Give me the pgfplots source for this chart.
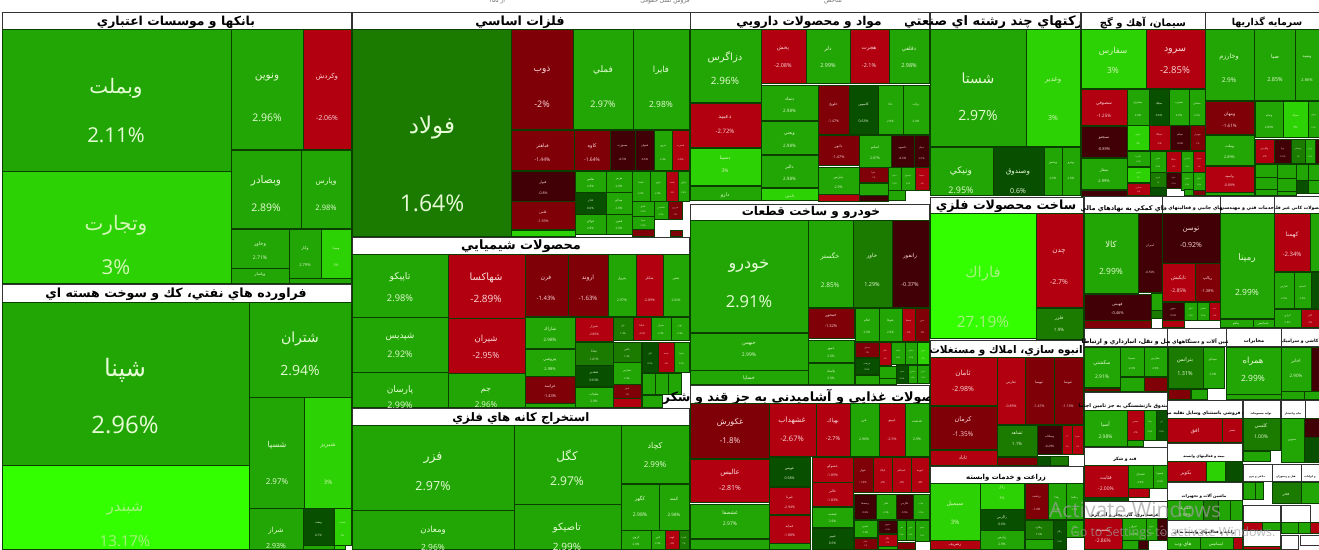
\documentclass[border=0pt]{standalone}
\usepackage{fontspec}
\usepackage{pgfplots}
\pgfplotsset{compat=1.18}
\setmainfont{Open Sans}
\newfontfamily\arabicfont[Script=Arabic]{DejaVu Sans}
\TeXXeTstate=1
\newcommand{\fa}[1]{{\arabicfont\beginR #1\endR}}

\definecolor{cG}{HTML}{22A605}
\definecolor{cB}{HTML}{2DD205}
\definecolor{cN}{HTML}{33FF00}
\definecolor{cF}{HTML}{1B7A00}
\definecolor{cK}{HTML}{085000}
\definecolor{cR}{HTML}{B20010}
\definecolor{cM}{HTML}{800008}
\definecolor{cD}{HTML}{400005}
\definecolor{tG}{HTML}{E6FCD6}
\definecolor{tB}{HTML}{D5F7B8}
\definecolor{tN}{HTML}{A6F27E}
\definecolor{tF}{HTML}{E6FCD6}
\definecolor{tK}{HTML}{EAFBE0}
\definecolor{tR}{HTML}{FBDADA}
\definecolor{tM}{HTML}{FBDADA}
\definecolor{tD}{HTML}{FBDADA}
\definecolor{edge}{HTML}{0B3F00}

% bare rectangle
\newcommand{\rc}[5]{\addplot[fill=c#5,draw=edge,line width=.5pt] coordinates {(#1,#2)(#3,#2)(#3,#4)(#1,#4)} --cycle;}
% one label: x, y, colour, size, text
\newcommand{\lb}[5]{\node[text=t#3,inner sep=0pt,font=\fontsize{#4}{#4}\selectfont] at (axis cs:#1,#2) {#5};}
\newcommand{\lbx}[5]{\pgfmathsetmacro\lx{#1}\pgfmathsetmacro\ly{#2}\edef\next{\noexpand\lb{\lx}{\ly}}\next{#3}{#4}{#5}}
% cell with name and percent at the usual heights
\newcommand{\tm}[8]{\rc{#1}{#2}{#3}{#4}{#5}
  \lbx{(#1+#3)/2}{#2+.40*(#4-#2)}{#5}{#6}{\fa{#7}}
  \lbx{(#1+#3)/2}{#2+.74*(#4-#2)}{#5}{#6}{#8}}
% header box and its text, clipped to clipL..clipR
\newcommand{\hd}[4]{\addplot[fill=white,draw=black!80,line width=.6pt] coordinates {(#1,#2)(#3,#2)(#3,#4)(#1,#4)} --cycle;}
\newcommand{\hx}[6]{\begin{scope}\clip (axis cs:#4,0) rectangle (axis cs:#5,549);
  \node[text=black,inner sep=0pt,yshift=-1.5pt,font=\fontsize{#3}{#3}\selectfont\bfseries] at (axis cs:#1,#2) {\arabicfont #6};\end{scope}}

\begin{document}
\begin{tikzpicture}
\begin{axis}[
    scale only axis, width=1319pt, height=549pt,
    xmin=0, xmax=1319, ymin=0, ymax=549, y dir=reverse,
    hide axis, clip=true]

% page background
\addplot[fill=white,draw=none] coordinates {(0,0)(1319,0)(1319,549)(0,549)} --cycle;
\node[text=black!55,font=\fontsize{6}{6}\selectfont] at (axis cs:497,1) {\arabicfont\beginR از ۱۵۵\endR};
\node[text=black!55,font=\fontsize{6}{6}\selectfont] at (axis cs:665,1) {\arabicfont\beginR فروش نسل حقوقی\endR};
\node[text=black!55,font=\fontsize{6}{6}\selectfont] at (axis cs:833,1) {\fa{شاخص}};

% banks
\hd{2}{12}{351}{29}
\hx{176}{20.5}{12.4}{0}{351}{\beginR بانكها و موسسات اعتباري\endR}
\rc{2}{29}{231}{171}{G}\lb{116}{88}{G}{20}{\fa{وبملت}}\lb{116}{135}{G}{20.5}{2.11\%}
\rc{2}{171}{231}{283}{B}\lb{116}{225}{B}{20}{\fa{وتجارت}}\lb{116}{267}{B}{20.5}{3\%}
\tm{231}{29}{303}{149}{G}{10.5}{ونوين}{2.96\%}
\tm{303}{29}{351}{149}{R}{7}{وكردش}{-2.06\%}
\tm{231}{150}{301}{228}{G}{10.5}{وبصادر}{2.89\%}
\tm{301}{150}{351}{228}{G}{7.5}{وپارس}{2.98\%}
\tm{231}{229}{289}{268}{G}{5}{وخاور}{2.71\%}
\tm{231}{268}{289}{283}{G}{4}{وپاسار}{}
\tm{289}{229}{321}{278}{G}{4}{وكار}{2.79\%}
\tm{321}{229}{351}{278}{B}{3.5}{ومينا}{3\%}
\rc{289}{278}{351}{283}{G}

% oil products
\hd{2}{284}{351}{302}
\hx{176}{293}{12.6}{0}{351}{\beginR فراورده هاي نفتي، كك و سوخت هسته اي\endR}
\rc{2}{302}{249}{465}{G}\lb{125}{370}{G}{24}{\fa{شپنا}}\lb{125}{425}{G}{24}{2.96\%}
\rc{249}{302}{351}{397}{G}\lb{300}{339}{G}{14}{\fa{شتران}}\lb{300}{371}{G}{14}{2.94\%}
\rc{249}{397}{304}{508}{G}\lb{277}{445}{G}{8}{\fa{شسپا}}\lb{277}{482}{G}{8}{2.97\%}
\rc{304}{397}{351}{508}{B}\lb{328}{445}{B}{6}{\fa{شبريز}}\lb{328}{482}{B}{6}{3\%}
\rc{2}{465}{249}{549}{N}\lb{125}{509}{N}{15}{\fa{شبندر}}\lb{125}{541}{N}{15}{13.17\%}
\rc{249}{508}{303}{549}{G}\lb{276}{531}{G}{7}{\fa{شراز}}\lb{276}{546}{G}{7}{2.93\%}
\tm{303}{508}{334}{545}{K}{3}{ونفت}{0.7\%}
\tm{334}{508}{351}{545}{B}{2.5}{شنفت}{3\%}
\rc{303}{545}{334}{549}{G}\rc{334}{545}{345}{549}{B}

% basic metals
\hd{352}{12}{690}{29}
\hx{520}{20.5}{12.6}{352}{690}{\beginR فلزات اساسي\endR}
\rc{352}{29}{511}{236}{F}\lb{432}{128}{F}{23}{\fa{فولاد}}\lb{432}{203}{F}{23}{1.64\%}
\rc{511}{29}{573}{129}{M}\lb{542}{70}{M}{9}{\fa{ذوب}}\lb{542}{104}{M}{9}{-2\%}
\rc{573}{29}{633}{129}{G}\lb{603}{70}{G}{9}{\fa{فملي}}\lb{603}{104}{G}{9}{2.97\%}
\rc{633}{29}{689}{129}{G}\lb{661}{70}{G}{8.5}{\fa{فايرا}}\lb{661}{104}{G}{8.5}{2.98\%}
\tm{511}{130}{574}{170}{M}{5}{فباهنر}{-1.44\%}
\tm{574}{130}{610}{170}{M}{5}{كاوه}{-1.64\%}
\tm{610}{130}{635}{170}{D}{3}{مسوژت}{-0.5\%}
\tm{635}{130}{654}{170}{D}{2.8}{فجهان}{-0.6\%}
\tm{654}{130}{672}{170}{G}{2.5}{فروي}{2.9\%}
\tm{672}{130}{689}{170}{R}{2.5}{فسرب}{-2.8\%}
\tm{511}{171}{575}{201}{D}{3.5}{فنوار}{-0.8\%}
\tm{511}{201}{575}{229}{M}{3.5}{فلس}{-1.39\%}
\rc{511}{230}{575}{236}{B}
\tm{575}{171}{606}{192}{G}{3}{ظلص}{2.9\%}
\tm{575}{192}{606}{214}{K}{3}{فاذر}{0.6\%}
\tm{575}{214}{606}{234}{G}{3}{فولاي}{2.9\%}
\tm{606}{171}{632}{192}{G}{3}{هرمز}{2.9\%}
\tm{606}{192}{632}{214}{G}{3}{ميدكو}{2.9\%}
\tm{606}{214}{632}{234}{G}{3}{فخوز}{2.9\%}
\tm{632}{171}{650}{201}{G}{2.5}{فسبا}{2.9\%}
\tm{650}{171}{666}{201}{G}{2.5}{فرود}{2.9\%}
\tm{666}{171}{678}{201}{R}{2.2}{فنفت}{-2\%}
\tm{678}{171}{689}{201}{G}{2.2}{فرآور}{2.9\%}
\tm{632}{201}{654}{216}{G}{2.2}{فافق}{2.9\%}
\tm{632}{216}{654}{229}{G}{2.2}{فپنتا}{2.9\%}
\rc{632}{229}{654}{236}{M}
\tm{654}{201}{668}{219}{G}{2.2}{فاسمين}{2.9\%}
\tm{668}{201}{682}{219}{M}{2.2}{فزرين}{-1\%}
\rc{670}{230}{682}{236}{M}

% chemicals
\hd{352}{237}{689}{254}
\hx{521}{245}{12.9}{352}{689}{\beginR محصولات شيميايي\endR}
\rc{352}{254}{448}{317}{G}\lb{400}{277}{G}{9.3}{\fa{تاپيكو}}\lb{400}{298}{G}{9.3}{2.98\%}
\rc{352}{317}{448}{372}{G}\lb{400}{337}{G}{9}{\fa{شپديس}}\lb{400}{354}{G}{9}{2.92\%}
\rc{352}{372}{448}{407}{G}\lb{400}{390}{G}{9}{\fa{پارسان}}\lb{400}{405}{G}{9}{2.99\%}
\rc{448}{254}{525}{318}{R}\lb{486}{278}{R}{10}{\fa{شهاكسا}}\lb{486}{299}{R}{10}{-2.89\%}
\rc{448}{318}{525}{373}{R}\lb{486}{339}{R}{8.5}{\fa{شيران}}\lb{486}{355}{R}{8.5}{-2.95\%}
\rc{448}{373}{525}{407}{G}\lb{486}{391}{G}{8}{\fa{جم}}\lb{486}{405}{G}{8}{2.96\%}
\rc{525}{254}{568}{316}{M}\lb{546}{278}{M}{6}{\fa{فرن}}\lb{546}{298}{M}{6}{-1.43\%}
\rc{568}{254}{608}{316}{M}\lb{588}{278}{M}{6}{\fa{اروند}}\lb{588}{298}{M}{6}{-1.63\%}
\tm{608}{254}{636}{316}{G}{3.5}{پترول}{2.97\%}
\tm{636}{254}{663}{316}{R}{3.5}{شكلر}{-2.89\%}
\tm{663}{254}{689}{316}{G}{3.2}{شفن}{2.92\%}
\tm{525}{317}{575}{348}{G}{4.5}{شاراك}{2.98\%}
\tm{525}{349}{575}{376}{G}{4}{پتروشي}{2.98\%}
\tm{525}{376}{575}{403}{M}{4}{غراسه}{-1.43\%}
\rc{525}{403}{575}{407}{G}
\tm{575}{317}{613}{341}{R}{3.2}{شيراز}{-2.86\%}
\tm{575}{342}{613}{365}{F}{3.2}{ثيتانا}{1.41\%}
\tm{575}{365}{613}{386}{K}{3.2}{شغدير}{0.63\%}
\tm{575}{387}{613}{407}{G}{3.2}{شلعاب}{2.9\%}
\tm{613}{317}{633}{340}{F}{2.5}{غن}{1.4\%}
\tm{633}{317}{651}{340}{R}{2.5}{شاليا}{-2.6\%}
\tm{651}{317}{671}{340}{G}{2.5}{شيراز}{2.9\%}
\tm{671}{317}{689}{340}{G}{2.5}{بوتر}{2.9\%}
\tm{613}{342}{641}{362}{F}{2.5}{پاكس}{1.3\%}
\tm{613}{362}{641}{384}{G}{2.5}{شفارس}{2.9\%}
\tm{613}{384}{641}{398}{M}{2.2}{شيپر}{-1\%}
\rc{613}{398}{641}{407}{R}
\tm{642}{342}{658}{372}{K}{2.2}{اپال}{0.5\%}
\tm{658}{342}{674}{372}{R}{2.2}{شمند}{-2\%}
\tm{674}{342}{689}{372}{G}{2.2}{شدوا}{2.9\%}
\rc{642}{373}{655}{394}{G}\rc{655}{373}{668}{394}{G}\rc{668}{373}{681}{394}{G}
\rc{642}{395}{662}{407}{G}

% mining
\hd{352}{408}{689}{425}
\hx{521}{417}{11.7}{352}{689}{\beginR استخراج كانه هاي فلزي\endR}
\rc{352}{425}{514}{510}{G}\lb{433}{458}{G}{12.5}{\fa{فزر}}\lb{433}{486}{G}{12.5}{2.97\%}
\rc{352}{510}{514}{549}{G}\lb{433}{530}{G}{8.5}{\fa{ومعادن}}\lb{433}{547}{G}{8.5}{2.96\%}
\rc{514}{425}{621}{504}{G}\lb{567}{456}{G}{12}{\fa{كگل}}\lb{567}{481}{G}{12}{2.97\%}
\rc{514}{504}{621}{549}{G}\lb{567}{528}{G}{10}{\fa{تاصيكو}}\lb{567}{547}{G}{10}{2.99\%}
\rc{621}{425}{689}{483}{G}\lb{655}{446}{G}{8}{\fa{كچاد}}\lb{655}{465}{G}{8}{2.99\%}
\rc{621}{484}{659}{530}{G}\lb{640}{499}{G}{5}{\fa{كگهر}}\lb{640}{515}{G}{5}{2.98\%}
\rc{659}{484}{689}{530}{G}\lb{674}{499}{G}{4.5}{\fa{كمند}}\lb{674}{515}{G}{4.5}{2.98\%}
\tm{621}{530}{651}{549}{G}{3}{كروي}{2.9\%}
\tm{651}{530}{665}{549}{G}{2.5}{كنور}{2.9\%}
\tm{665}{530}{679}{549}{R}{2.5}{كهمد}{-2\%}
\tm{679}{530}{689}{549}{F}{2.2}{كسرا}{1\%}

% pharma
\hd{690}{12}{929}{29}
\hx{809}{20.5}{12.2}{690}{929}{\beginR مواد و محصولات دارويي\endR}
\rc{690}{29}{761}{102}{G}\lb{725}{57}{G}{10}{\fa{دزاگرس}}\lb{725}{81}{G}{10}{2.96\%}
\rc{690}{103}{761}{147}{R}\lb{725}{117}{R}{6}{\fa{دعبيد}}\lb{725}{131}{R}{6}{-2.72\%}
\rc{690}{148}{761}{185}{B}\lb{725}{158}{B}{5}{\fa{دسينا}}\lb{725}{171}{B}{5}{3\%}
\rc{690}{186}{761}{200}{G}\lb{725}{195}{G}{5}{\fa{دارو}}
\rc{761}{29}{806}{83}{R}\lb{783}{49}{R}{5.5}{\fa{پخش}}\lb{783}{66}{R}{5.5}{-2.08\%}
\rc{806}{29}{850}{83}{G}\lb{828}{49}{G}{5.5}{\fa{دلر}}\lb{828}{66}{G}{5.5}{2.99\%}
\rc{850}{29}{889}{83}{R}\lb{869}{49}{R}{5.5}{\fa{هجرت}}\lb{869}{66}{R}{5.5}{-2.1\%}
\rc{889}{29}{929}{83}{G}\lb{909}{49}{G}{5.5}{\fa{دفلفي}}\lb{909}{66}{G}{5.5}{2.98\%}
\tm{761}{85}{818}{120}{G}{4.5}{دتماد}{2.98\%}
\tm{761}{121}{818}{154}{G}{4.5}{ويعتي}{2.98\%}
\tm{761}{155}{818}{187}{G}{4.5}{دالبر}{2.98\%}
\rc{761}{188}{818}{200}{B}\lb{790}{196}{B}{4}{\fa{دامين}}
\tm{818}{85}{849}{134}{M}{3.5}{خلوپخ}{-1.47\%}
\tm{849}{85}{878}{134}{K}{3.5}{كاسپين}{0.63\%}
\tm{878}{85}{903}{134}{G}{3}{دانا}{2.9\%}
\tm{903}{85}{929}{134}{G}{3}{بركت}{2.9\%}
\tm{818}{135}{859}{165}{M}{3.8}{دابور}{-1.47\%}
\tm{859}{135}{891}{167}{G}{3.5}{اسانم}{2.87\%}
\tm{891}{135}{914}{167}{D}{3}{داسوه}{-0.6\%}
\tm{914}{135}{929}{167}{D}{2.5}{دبيلر}{-0.7\%}
\tm{818}{167}{859}{194}{G}{3.5}{دپارس}{2.9\%}
\rc{818}{194}{859}{201}{R}
\tm{859}{167}{888}{182}{M}{2.2}{دفرا}{-1\%}
\rc{859}{183}{888}{195}{G}\rc{859}{195}{888}{201}{D}
\tm{888}{167}{901}{190}{G}{2}{دشيم}{2.9\%}
\tm{901}{167}{915}{190}{G}{2}{دكپسول}{2.9\%}
\tm{915}{167}{929}{190}{R}{2}{دسبحا}{-2\%}
\rc{888}{190}{905}{200}{G}

% cars
\hd{690}{204}{929}{220}
\hx{811}{211}{12.1}{690}{929}{\beginR خودرو و ساخت قطعات\endR}
\rc{690}{220}{808}{332}{G}\lb{749}{266}{G}{16}{\fa{خودرو}}\lb{749}{302}{G}{16.5}{2.91\%}
\rc{690}{333}{808}{370}{G}\lb{749}{344}{G}{5}{\fa{خبهمن}}\lb{749}{355}{G}{5}{2.99\%}
\rc{690}{370}{808}{384}{G}\lb{749}{378}{G}{5}{\fa{خساپا}}
\rc{808}{220}{853}{307}{G}\lb{830}{256}{G}{6.5}{\fa{خگستر}}\lb{830}{285}{G}{6.5}{2.85\%}
\rc{853}{220}{892}{307}{F}\lb{872}{256}{F}{5.5}{\fa{خاور}}\lb{872}{285}{F}{5.5}{1.29\%}
\rc{892}{220}{929}{307}{D}\lb{910}{256}{D}{5.5}{\fa{رانفور}}\lb{910}{285}{D}{5.5}{-0.37\%}
\rc{808}{308}{854}{338}{M}\lb{831}{316}{M}{4}{\fa{خمحور}}\lb{831}{326}{M}{4}{-1.32\%}
\tm{855}{308}{879}{341}{G}{3}{اتكام}{2.9\%}
\tm{879}{308}{902}{341}{G}{3}{ختوقا}{2.9\%}
\tm{902}{308}{915}{341}{R}{2.5}{خسپا}{-2\%}
\tm{915}{308}{929}{341}{M}{2.5}{خزر}{-1\%}
\tm{808}{340}{854}{362}{G}{3.2}{خمهر}{2.9\%}
\tm{808}{363}{854}{384}{G}{3.2}{پلاسك}{2.9\%}
\tm{855}{342}{879}{357}{M}{2.2}{خديزل}{-1\%}
\tm{855}{358}{879}{374}{K}{2.2}{خريخت}{0.6\%}
\rc{855}{375}{879}{384}{G}
\tm{879}{342}{891}{365}{R}{2}{خكار}{-2\%}
\tm{891}{342}{905}{364}{G}{2}{خلنت}{2.9\%}
\tm{905}{342}{917}{364}{G}{2}{خبنيان}{2.9\%}
\tm{917}{342}{929}{364}{B}{2}{ختور}{3\%}
\rc{879}{366}{896}{378}{G}\rc{879}{378}{896}{384}{G}
\tm{896}{365}{908}{383}{K}{2}{خفنر}{0.5\%}
\tm{908}{365}{917}{383}{G}{1.8}{خشرق}{2.9\%}
\tm{917}{365}{929}{383}{G}{1.8}{خاذين}{2.9\%}

% food
\hd{690}{385}{929}{403}
\hx{807}{395}{12.8}{650}{929}{\beginR محصولات غذايي و آشاميدني به جز قند و شكر\endR}
\rc{690}{403}{769}{458}{M}\lb{730}{422}{M}{8}{\fa{غكورش}}\lb{730}{441}{M}{8}{-1.8\%}
\rc{769}{403}{816}{456}{R}\lb{792}{421}{R}{7.5}{\fa{غشهداب}}\lb{792}{439}{R}{7.5}{-2.67\%}
\rc{816}{403}{850}{456}{R}\lb{833}{421}{R}{5.5}{\fa{بهپاك}}\lb{833}{439}{R}{5.5}{-2.7\%}
\rc{850}{403}{879}{456}{G}\lb{864}{421}{G}{3.5}{\fa{غزر}}\lb{864}{439}{G}{3.5}{2.96\%}
\rc{879}{403}{905}{456}{R}\lb{892}{421}{R}{3.5}{\fa{غپينو}}\lb{892}{439}{R}{3.5}{-2.5\%}
\rc{905}{403}{929}{456}{G}\lb{917}{421}{G}{3.5}{\fa{غدشت}}\lb{917}{439}{G}{3.5}{2.9\%}
\rc{690}{459}{769}{502}{R}\lb{730}{473}{R}{7}{\fa{عاليس}}\lb{730}{488}{R}{7}{-2.81\%}
\rc{690}{504}{769}{538}{G}\lb{730}{513}{G}{5}{\fa{غشصفا}}\lb{730}{524}{G}{5}{2.97\%}
\rc{690}{539}{769}{549}{G}
\tm{769}{457}{810}{486}{K}{3.5}{غويس}{0.58\%}
\tm{769}{487}{810}{514}{R}{3.5}{غبرنا}{-2.94\%}
\tm{769}{515}{810}{543}{R}{3.5}{غمايه}{-1.88\%}
\rc{769}{543}{810}{549}{G}
\tm{812}{457}{853}{482}{R}{3.5}{غشوكو}{-1.89\%}
\tm{812}{482}{853}{506}{R}{3.5}{غالبر}{-1.83\%}
\tm{812}{507}{853}{527}{G}{3.2}{غبشت}{2.9\%}
\tm{812}{528}{853}{549}{K}{3.2}{غبيبر}{0.5\%}
\tm{853}{457}{873}{492}{M}{2.8}{غبهار}{-1.4\%}
\tm{873}{457}{892}{492}{R}{2.8}{غپاك}{-2\%}
\tm{892}{457}{911}{492}{R}{2.8}{غسالم}{-2\%}
\tm{911}{457}{929}{492}{R}{2.8}{غپونه}{-2\%}
\tm{854}{494}{876}{519}{D}{2.5}{وسصفا}{-0.6\%}
\tm{876}{494}{896}{519}{G}{2.5}{غفار}{2.9\%}
\tm{896}{494}{913}{519}{D}{2.5}{غگرجي}{-0.5\%}
\tm{913}{494}{929}{519}{G}{2.2}{غناب}{2.9\%}
\tm{854}{520}{877}{537}{G}{2.5}{غمينو}{2.9\%}
\tm{854}{538}{877}{549}{M}{2}{غدام}{-1\%}
\tm{878}{520}{897}{533}{D}{2}{غنوش}{-0.5\%}
\tm{878}{534}{897}{546}{R}{2}{غگل}{-2\%}
\rc{878}{546}{897}{549}{G}
\tm{897}{520}{906}{540}{G}{1.8}{غاذر}{2.9\%}
\tm{906}{520}{915}{540}{G}{1.8}{غچين}{2.9\%}
\tm{915}{520}{929}{541}{G}{1.8}{غصينو}{2.9\%}
\rc{897}{542}{915}{549}{M}

% multi-industry
\hd{930}{12}{1080}{29}
\hx{1000}{20.5}{13}{905}{1079}{\beginR شركتهاي چند رشته اي صنعتي\endR}
\rc{930}{29}{1026}{146}{G}\lb{978}{78}{G}{14}{\fa{شستا}}\lb{978}{116}{G}{14}{2.97\%}
\rc{1026}{29}{1080}{146}{B}\lb{1053}{80}{B}{7}{\fa{وغدير}}\lb{1053}{118}{B}{7}{3\%}
\rc{930}{147}{993}{195}{G}\lb{961}{171}{G}{9}{\fa{ونيكي}}\lb{961}{190}{G}{9}{2.95\%}
\rc{993}{147}{1044}{195}{K}\lb{1018}{172}{K}{7}{\fa{وصندوق}}\lb{1018}{191}{K}{7}{0.6\%}
\rc{1044}{147}{1062}{195}{G}\lb{1053}{163}{G}{3}{\fa{وپخش}}\lb{1053}{178}{G}{3}{2.9\%}
\rc{1062}{147}{1080}{195}{G}\lb{1071}{163}{G}{3}{\fa{وپترو}}\lb{1071}{178}{G}{3}{2.9\%}

% metal products
\hd{930}{197}{1083}{213}
\hx{1006}{205}{12.6}{920}{1080}{\beginR ساخت محصولات فلزي\endR}
\rc{930}{213}{1036}{338}{N}\lb{983}{274}{N}{15}{\fa{فاراك}}\lb{983}{322}{N}{15.5}{27.19\%}
\rc{1036}{213}{1083}{307}{R}\lb{1059}{252}{R}{7}{\fa{چدن}}\lb{1059}{282}{R}{7}{-2.7\%}
\rc{1036}{308}{1083}{339}{F}\lb{1059}{318}{F}{4.5}{\fa{فلزر}}\lb{1059}{330}{F}{4.5}{1.9\%}

% mass housing
\hd{930}{340}{1083}{357}
\hx{1006}{349}{10.5}{925}{1083}{\beginR انبوه سازي، املاك و مستغلات\endR}
\rc{930}{357}{997}{405}{R}\lb{963}{373}{R}{7}{\fa{ثامان}}\lb{963}{389}{R}{7}{-2.98\%}
\rc{930}{406}{997}{449}{M}\lb{963}{420}{M}{6.5}{\fa{كرمان}}\lb{963}{434}{M}{6.5}{-1.35\%}
\rc{930}{450}{997}{465}{R}\lb{963}{458}{R}{5}{\fa{ثاباد}}
\rc{997}{357}{1025}{424}{R}\lb{1011}{383}{R}{3.5}{\fa{ثفارس}}\lb{1011}{406}{R}{3.5}{-0.89\%}
\rc{1025}{357}{1054}{424}{M}\lb{1039}{383}{M}{3.5}{\fa{ثبهسا}}\lb{1039}{406}{M}{3.5}{-1.47\%}
\rc{1054}{357}{1083}{424}{M}\lb{1068}{383}{M}{3.5}{\fa{ثنوسا}}\lb{1068}{406}{M}{3.5}{-1.13\%}
\rc{997}{425}{1037}{456}{F}\lb{1017}{433}{F}{4.5}{\fa{ثشاهد}}\lb{1017}{444}{F}{4.5}{1.1\%}
\tm{1037}{425}{1062}{454}{D}{3}{وسكاب}{-0.29\%}
\tm{1062}{425}{1072}{454}{R}{2}{ثزر}{-2\%}
\tm{1072}{425}{1083}{454}{R}{2}{ثعمرا}{-2\%}
\rc{997}{457}{1037}{465}{M}\rc{1037}{456}{1050}{465}{K}\rc{1050}{456}{1068}{465}{F}

% agriculture
\hd{930}{466}{1083}{483}
\hx{1006}{476}{6.9}{930}{1083}{\beginR زراعت و خدمات وابسته\endR}
\rc{930}{483}{980}{540}{B}\lb{955}{504}{B}{6}{\fa{سيميل}}\lb{955}{522}{B}{6}{3\%}
\rc{930}{540}{980}{549}{R}\lb{955}{545}{R}{4}{\fa{زشريف}}
\rc{980}{483}{1024}{509}{B}\lb{1002}{488}{B}{3.5}{\fa{زلال}}\lb{1002}{498}{B}{3.5}{3\%}
\tm{980}{509}{1024}{530}{K}{3.2}{زاگرس}{0.6\%}
\tm{980}{530}{1024}{549}{G}{3.2}{زپارس}{2.9\%}
\tm{1025}{483}{1048}{519}{M}{3}{زدشت}{-1.4\%}
\tm{1048}{483}{1066}{519}{G}{2.5}{زفكا}{2.9\%}
\tm{1066}{483}{1083}{519}{G}{2.5}{زمگسا}{2.9\%}
\tm{1025}{520}{1053}{539}{F}{2.8}{زملارد}{1.3\%}
\rc{1025}{539}{1053}{549}{G}
\tm{1053}{520}{1066}{549}{K}{2}{زنگان}{0.5\%}
\tm{1066}{520}{1083}{537}{G}{2}{زكوثر}{2.9\%}

% cement
\hd{1081}{12}{1205}{29}
\hx{1143}{21}{10}{1081}{1205}{\beginR سيمان، آهك و گچ\endR}
\rc{1081}{29}{1146}{88}{B}\lb{1113}{51}{B}{8.5}{\fa{سفارس}}\lb{1113}{70}{B}{8.5}{3\%}
\rc{1146}{29}{1205}{88}{R}\lb{1175}{51}{R}{9.5}{\fa{سرود}}\lb{1175}{70}{R}{9.5}{-2.85\%}
\tm{1081}{89}{1127}{125}{R}{4.5}{سصوفي}{-1.25\%}
\tm{1127}{89}{1149}{125}{G}{2.8}{سشرق}{2.9\%}
\tm{1149}{89}{1169}{125}{K}{2.8}{سيلك}{0.6\%}
\tm{1169}{89}{1189}{125}{G}{2.8}{سغرب}{2.9\%}
\tm{1189}{89}{1205}{125}{G}{2.5}{سخاش}{2.9\%}
\tm{1081}{126}{1127}{157}{D}{4}{سبجنو}{-0.89\%}
\tm{1081}{158}{1127}{189}{G}{4}{سفار}{2.99\%}
\rc{1081}{190}{1127}{196}{D}
\tm{1127}{125}{1149}{150}{B}{2.5}{سنير}{3\%}
\tm{1149}{125}{1170}{150}{R}{2.5}{سيلكا}{-2\%}
\tm{1170}{125}{1190}{150}{D}{2.5}{سپكم}{-0.6\%}
\tm{1190}{125}{1205}{150}{M}{2.2}{سهرمز}{-1\%}
\tm{1127}{151}{1150}{166}{G}{2}{سكرما}{2.9\%}
\tm{1127}{167}{1150}{182}{B}{2}{سقاين}{3\%}
\tm{1127}{183}{1150}{195}{R}{2}{سمازن}{-2\%}
\tm{1150}{151}{1166}{172}{G}{2}{سدور}{2.9\%}
\tm{1166}{151}{1181}{172}{R}{2}{سمگا}{-2\%}
\tm{1181}{151}{1193}{172}{G}{1.8}{سكارون}{2.9\%}
\tm{1193}{151}{1205}{172}{R}{1.8}{سبهان}{-2\%}
\tm{1150}{172}{1166}{187}{F}{1.8}{سارود}{1\%}
\rc{1150}{187}{1166}{195}{K}
\tm{1166}{172}{1181}{188}{D}{1.8}{ساوه}{-0.5\%}
\tm{1181}{172}{1193}{190}{G}{1.8}{سامان}{2.9\%}
\tm{1193}{172}{1205}{190}{G}{1.8}{سباقر}{2.9\%}
\rc{1184}{189}{1193}{195}{G}\rc{1193}{190}{1205}{195}{M}

% investment
\hd{1205}{12}{1319}{29}
\hx{1267}{21}{9.5}{1205}{1319}{\beginR سرمايه گذاريها\endR}
\rc{1205}{29}{1254}{100}{G}\lb{1229}{57}{G}{6.5}{\fa{وخارزم}}\lb{1229}{80}{G}{6.5}{2.9\%}
\rc{1254}{29}{1295}{100}{G}\lb{1275}{57}{G}{5.5}{\fa{صبا}}\lb{1275}{80}{G}{5.5}{2.85\%}
\rc{1295}{29}{1319}{100}{G}\lb{1307}{57}{G}{4}{\fa{وسپه}}\lb{1307}{80}{G}{4}{2.86\%}
\tm{1205}{101}{1254}{134}{M}{4.5}{ومهان}{-1.61\%}
\tm{1205}{135}{1254}{165}{G}{3.8}{وملت}{2.89\%}
\tm{1205}{166}{1254}{192}{R}{3.5}{واسپه}{-0.89\%}
\rc{1205}{192}{1254}{195}{G}
\tm{1255}{101}{1283}{137}{G}{3}{ومايه}{2.89\%}
\tm{1283}{101}{1308}{137}{B}{3}{سپيك}{3\%}
\tm{1308}{101}{1319}{137}{G}{2}{وتوس}{2.9\%}
\tm{1255}{139}{1274}{163}{R}{2.5}{ولپارس}{-2\%}
\tm{1274}{139}{1291}{163}{D}{2.2}{وبنا}{-0.5\%}
\tm{1291}{139}{1305}{163}{F}{2}{وسبحان}{1\%}
\tm{1305}{139}{1315}{163}{G}{1.8}{وايران}{2.9\%}
\rc{1315}{139}{1319}{163}{D}
\rc{1255}{164}{1277}{177}{G}\rc{1255}{177}{1277}{189}{G}\rc{1255}{189}{1277}{195}{G}
\rc{1277}{164}{1296}{178}{G}\rc{1277}{178}{1296}{191}{G}\rc{1277}{191}{1296}{195}{G}
\rc{1296}{164}{1308}{180}{G}\rc{1296}{180}{1308}{193}{K}
\rc{1308}{164}{1319}{180}{G}\rc{1308}{180}{1319}{193}{G}

% row 2, right part
\hd{1084}{196}{1162}{213}
\hd{1162}{196}{1220}{213}
\hd{1220}{196}{1274}{213}
\hd{1274}{196}{1319}{213}
\hx{1122}{207}{6.5}{1081}{1163}{\beginR فعاليتهاي كمكي به نهادهاي مالي واسط\endR}
\hx{1190}{207}{4.8}{1163}{1221}{\beginR فعاليتهاي جانبي و فعاليتهاي وابسته به\endR}
\hx{1247}{207}{4.8}{1221}{1275}{\beginR خدمات فني و مهندسي\endR}
\hx{1297}{207}{4.5}{1275}{1319}{\beginR محصولات كاني غير فلزي\endR}
\rc{1084}{213}{1138}{293}{G}\lb{1111}{244}{G}{8.5}{\fa{كالا}}\lb{1111}{271}{G}{8.5}{2.99\%}
\rc{1138}{213}{1162}{292}{D}\lb{1150}{246}{D}{3}{\fa{اميران}}\lb{1150}{272}{D}{3}{-0.56\%}
\rc{1162}{213}{1220}{263}{D}\lb{1191}{230}{D}{7}{\fa{توسن}}\lb{1191}{245}{D}{7}{-0.92\%}
\tm{1162}{263}{1195}{301}{R}{5}{تايكيش}{-2.85\%}
\tm{1195}{263}{1220}{301}{M}{4}{ريالپ}{-1.38\%}
\tm{1084}{294}{1151}{320}{D}{4}{فهيس}{-0.46\%}
\rc{1084}{320}{1151}{328}{M}
\rc{1151}{293}{1162}{310}{G}\rc{1151}{310}{1162}{318}{F}
\tm{1162}{302}{1184}{320}{D}{2.5}{ميهن}{-0.5\%}
\rc{1162}{320}{1184}{327}{R}
\tm{1184}{302}{1197}{320}{G}{2}{اتكاي}{2.9\%}
\tm{1197}{302}{1209}{320}{G}{2}{اطلس}{2.9\%}
\tm{1209}{302}{1220}{320}{R}{2}{ثبات}{-2\%}
\rc{1220}{213}{1274}{318}{G}\lb{1247}{258}{G}{9}{\fa{رمپنا}}\lb{1247}{292}{G}{8.5}{2.99\%}
\rc{1220}{319}{1253}{327}{G}\lb{1236}{324}{G}{3}{\fa{پتاهو}}
\rc{1253}{319}{1274}{327}{G}\lb{1263}{324}{G}{3}{\fa{ايساتيس}}
\rc{1274}{213}{1310}{271}{R}\lb{1292}{235}{R}{6}{\fa{كهمنا}}\lb{1292}{254}{R}{6}{-2.34\%}
\rc{1310}{213}{1319}{271}{G}
\tm{1274}{272}{1294}{308}{G}{2.5}{كفارس}{2.9\%}
\tm{1294}{272}{1311}{308}{G}{2.5}{كساوه}{2.9\%}
\rc{1311}{272}{1319}{308}{K}
\tm{1274}{309}{1301}{327}{G}{2.5}{كرازي}{2.9\%}
\tm{1301}{309}{1319}{327}{R}{2.5}{كاذر}{-2\%}

\hd{1084}{328}{1167}{346}
\hd{1167}{328}{1226}{346}
\hd{1226}{328}{1281}{346}
\hd{1281}{328}{1319}{346}
\hx{1125}{340}{6}{1081}{1168}{\beginR حمل و نقل، انبارداري و ارتباطات\endR}
\hx{1196}{340}{5}{1168}{1227}{\beginR ماشين آلات و دستگاههاي برقي\endR}
\hx{1254}{340}{5}{1227}{1282}{\beginR مخابرات\endR}
\hx{1300}{340}{4.5}{1282}{1319}{\beginR كاشي و سراميك\endR}
\tm{1084}{347}{1120}{387}{G}{5}{سكشتي}{2.91\%}
\tm{1120}{347}{1144}{376}{G}{2.8}{حسينا}{2.9\%}
\tm{1144}{347}{1167}{376}{G}{2.8}{حفارس}{2.9\%}
\rc{1120}{377}{1144}{391}{G}\rc{1144}{377}{1167}{391}{M}\rc{1084}{388}{1120}{391}{M}
\rc{1168}{347}{1203}{388}{F}\lb{1185}{360}{F}{5.5}{\fa{بترانس}}\lb{1185}{374}{F}{5.5}{1.31\%}
\rc{1203}{347}{1224}{388}{G}\lb{1213}{360}{G}{3}{\fa{سيدكو}}\lb{1213}{374}{G}{3}{2.9\%}
\rc{1168}{389}{1190}{399}{M}\rc{1191}{389}{1207}{399}{G}
\rc{1226}{347}{1281}{394}{G}\lb{1253}{361}{G}{8.5}{\fa{همراه}}\lb{1253}{378}{G}{8.5}{2.99\%}
\rc{1226}{394}{1281}{399}{G}
\rc{1281}{347}{1311}{391}{G}\lb{1296}{361}{G}{4.5}{\fa{اخابر}}\lb{1296}{376}{G}{4.5}{2.90\%}
\rc{1311}{347}{1319}{391}{D}
\rc{1281}{391}{1304}{399}{G}\rc{1304}{391}{1319}{399}{G}

\hd{1084}{392}{1167}{410}
\hx{1122}{404}{5}{1078}{1168}{\beginR وصندوق بازنشستگي به جز تامين اجتماعي\endR}
\tm{1084}{410}{1127}{446}{G}{5}{آسيا}{2.98\%}
\tm{1127}{410}{1144}{440}{R}{2.5}{حسن}{-2\%}
\tm{1144}{410}{1156}{440}{G}{2}{پاسا}{2.9\%}
\tm{1156}{410}{1167}{440}{K}{2}{دي}{0.5\%}
\rc{1127}{440}{1143}{446}{G}

\hd{1084}{447}{1167}{465}
\hx{1125}{458}{4.5}{1084}{1167}{\beginR قند و شكر\endR}
\tm{1084}{465}{1128}{497}{R}{5}{قثابت}{-2.00\%}
\tm{1128}{465}{1153}{488}{G}{2.8}{قشمال}{2.9\%}
\tm{1153}{465}{1167}{488}{G}{2.5}{قصفها}{2.9\%}
\rc{1128}{488}{1149}{497}{R}\rc{1084}{497}{1128}{501}{K}

\hd{1084}{501}{1167}{518}
\hx{1125}{513}{4.5}{1084}{1167}{\beginR عرضه برق، گاز، بخار و آب گرم\endR}
\tm{1084}{518}{1122}{549}{R}{5}{شسپند}{-2.86\%}
\tm{1122}{518}{1146}{540}{G}{3}{تبرق}{2.9\%}
\tm{1146}{518}{1157}{540}{G}{2}{بموتو}{2.9\%}
\tm{1157}{518}{1167}{540}{D}{2}{بكام}{-0.5\%}
\rc{1122}{540}{1138}{549}{G}\rc{1138}{540}{1148}{549}{D}

\hd{1167}{400}{1242}{418}
\hx{1204}{412}{4.5}{1167}{1243}{\beginR خرده فروشي باستثناي وسايل نقليه موتوري\endR}
\rc{1167}{418}{1222}{442}{R}\lb{1195}{431}{R}{5.5}{\fa{افق}}
\rc{1222}{418}{1242}{442}{R}\lb{1232}{431}{R}{3}{\fa{هسر}}
\hd{1167}{443}{1242}{461}
\hx{1204}{455}{3.5}{1167}{1242}{\beginR بيمه و فعاليتهاي وابسته\endR}
\rc{1167}{461}{1206}{481}{R}\lb{1186}{473}{R}{5}{\fa{بكوير}}
\rc{1206}{461}{1225}{481}{B}\rc{1225}{461}{1242}{481}{K}
\hd{1167}{482}{1242}{500}
\hx{1204}{495}{4}{1167}{1242}{\beginR ماشين آلات و تجهيزات\endR}
\tm{1167}{500}{1203}{520}{G}{4}{الكتريك}{2.98\%}
\rc{1203}{500}{1218}{520}{F}\rc{1218}{500}{1230}{520}{G}\rc{1230}{500}{1242}{520}{G}
\hd{1167}{520}{1242}{537}
\hx{1204}{531}{4}{1167}{1242}{\beginR رايانه و فعاليتهاي وابسته به آن\endR}
\rc{1167}{537}{1200}{549}{G}\lb{1183}{544}{G}{5}{\arabicfont\beginR هاي وب\endR}
\rc{1200}{537}{1233}{549}{G}\lb{1216}{544}{G}{4}{\fa{ايساتيس}}
\rc{1233}{537}{1242}{549}{R}

\hd{1243}{400}{1280}{418}\hd{1281}{400}{1305}{418}\hd{1305}{400}{1319}{418}
\hx{1261}{412}{2.8}{1243}{1280}{\beginR توليد منسوجات\endR}
\hx{1293}{412}{2.5}{1281}{1305}{\beginR چاپ و انتشار\endR}
\rc{1243}{418}{1280}{450}{F}\lb{1261}{426}{F}{5}{\fa{كلسي}}\lb{1261}{437}{F}{5}{1.00\%}
\rc{1243}{451}{1270}{461}{G}
\rc{1281}{418}{1304}{462}{G}\lb{1292}{440}{G}{3}{\fa{سنوين}}
\rc{1304}{418}{1319}{437}{D}\rc{1304}{437}{1319}{462}{K}
\hd{1243}{464}{1272}{481}\hd{1272}{464}{1301}{481}\hd{1301}{464}{1319}{481}
\hx{1257}{475}{2.5}{1243}{1272}{\beginR دباغي و چرم\endR}
\hx{1286}{475}{2.5}{1272}{1301}{\beginR هتل و رستوران\endR}
\hx{1310}{475}{2.5}{1301}{1319}{\beginR و ايرادات\endR}
\rc{1243}{482}{1255}{499}{G}\rc{1255}{482}{1263}{499}{G}
\rc{1272}{482}{1301}{503}{F}\lb{1286}{495}{F}{4}{\fa{فجر}}
\rc{1301}{482}{1319}{503}{G}
\hd{1243}{505}{1280}{522}\hd{1281}{505}{1310}{522}
\rc{1243}{522}{1262}{530}{R}\rc{1262}{522}{1280}{530}{G}
\rc{1281}{522}{1298}{533}{G}\rc{1298}{522}{1310}{533}{G}\rc{1310}{522}{1319}{533}{R}
\hd{1243}{530}{1280}{546}
\rc{1243}{546}{1280}{549}{R}
\hd{1281}{535}{1298}{549}\hd{1300}{535}{1319}{545}

% desktop watermark
\node[text=gray!75!white,opacity=.7,font=\fontsize{21}{21}\selectfont] at (axis cs:1135,510) {Activate Windows};
\node[text=gray!75!white,opacity=.7,font=\fontsize{12.5}{12.5}\selectfont] at (axis cs:1173,533) {Go to Settings to activate Windows.};
\end{axis}
\pgfresetboundingbox
\useasboundingbox (current axis.south west) rectangle (current axis.north east);
\end{tikzpicture}
\end{document}
